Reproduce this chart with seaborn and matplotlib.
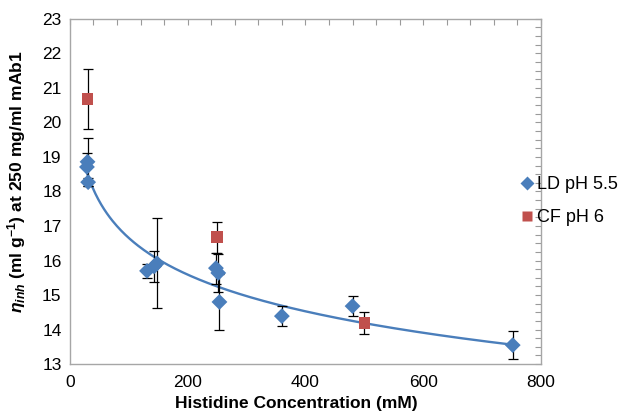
import numpy as np
import pandas as pd
import matplotlib
matplotlib.use("Agg")
import matplotlib.pyplot as plt
import seaborn as sns
from matplotlib.ticker import MultipleLocator

# Valores
ld_x = [29, 30, 31, 131, 143, 148, 248, 252, 254, 360, 480, 752]
ld_y = [18.71, 18.86, 18.27, 15.70, 15.83, 15.92, 15.78, 15.64, 14.80, 14.39, 14.68, 13.55]
ld_err = [0.40, 0.70, 0.12, 0.20, 0.45, 1.30, 0.45, 0.55, 0.82, 0.29, 0.30, 0.41]

cf_x = [30, 250, 500]
cf_y = [20.68, 16.68, 14.19]
cf_err = [0.87, 0.45, 0.31]

series_names = ["LD pH 5.5", "CF pH 6"]

df = pd.DataFrame({
    "x": ld_x + cf_x,
    "y": ld_y + cf_y,
    "err": ld_err + cf_err,
    "series": [series_names[0]] * len(ld_x) + [series_names[1]] * len(cf_x),
})

sns.set_style("white")
plt.rcParams["font.family"] = ["Liberation Sans", "DejaVu Sans"]
plt.rcParams["mathtext.fontset"] = "custom"
plt.rcParams["mathtext.rm"] = "Liberation Sans"
plt.rcParams["mathtext.it"] = "Liberation Sans:italic"
plt.rcParams["mathtext.bf"] = "Liberation Sans:bold"
plt.rcParams["mathtext.bfit"] = "Liberation Sans:bold:italic"
plt.rcParams["text.color"] = "black"
plt.rcParams["axes.labelcolor"] = "black"
plt.rcParams["xtick.color"] = "black"
plt.rcParams["ytick.color"] = "black"

blue = "#4A7EBB"
red = "#C0504D"
tick_gray = "#9a9a9a"

fig = plt.figure(figsize=(6.41, 4.19), dpi=100)
ax = fig.add_axes([0.109, 0.131, 0.735, 0.824])

# Linha de tendencia logaritmica (ajuste sobre LD)
coef = np.polyfit(np.log(ld_x), ld_y, 1)
fit_x = np.linspace(min(ld_x), max(ld_x), 300)
fit = pd.DataFrame({"x": fit_x, "y": np.polyval(coef, np.log(fit_x))})
sns.lineplot(data=fit, x="x", y="y", color=blue, lw=1.7, ax=ax, legend=False, zorder=2)

# Barras de erro
for name in series_names:
    sub = df[df.series == name]
    ax.errorbar(sub.x, sub.y, yerr=sub.err, fmt="none", ecolor="black",
                elinewidth=0.9, capsize=3.5, capthick=0.9, zorder=3)

sns.scatterplot(data=df, x="x", y="y", hue="series", style="series",
                markers={series_names[0]: "D", series_names[1]: "s"},
                palette={series_names[0]: blue, series_names[1]: red},
                s=65, edgecolor="none", ax=ax, zorder=4)

ax.set_xlim(0, 800)
ax.set_ylim(13, 23)
ax.xaxis.set_major_locator(MultipleLocator(200))
ax.xaxis.set_minor_locator(MultipleLocator(40))
ax.yaxis.set_major_locator(MultipleLocator(1))
ax.yaxis.set_minor_locator(MultipleLocator(0.25))
ax.tick_params(which="both", direction="in", length=4, width=0.8, color=tick_gray,
               top=True, right=True, labelsize=12.5)
ax.tick_params(axis="x", which="both", pad=8)
ax.tick_params(axis="y", which="both", pad=6)
for s in ax.spines.values():
    s.set_color("#a6a6a6")
    s.set_linewidth(1.0)

ax.set_xlabel("Histidine Concentration (mM)", fontsize=12.5, fontweight="bold")
ax.set_ylabel(r"$\mathbfit{\eta}_{\mathbfit{inh}}$ (ml g$^{\mathbf{-1}}$) at 250 mg/ml mAb1",
              fontsize=12.6, fontweight="bold")
ax.xaxis.set_label_coords(0.48, -0.093)
ax.yaxis.set_label_coords(-0.088, 0.527)

handles, labels = ax.get_legend_handles_labels()
ax.legend(handles, labels, loc="center left", bbox_to_anchor=(0.782, 0.52),
          bbox_transform=fig.transFigure, frameon=False, fontsize=13,
          handletextpad=-0.4, labelspacing=0.9, borderaxespad=0, markerscale=0.85)

fig.savefig("out.png", dpi=100)
